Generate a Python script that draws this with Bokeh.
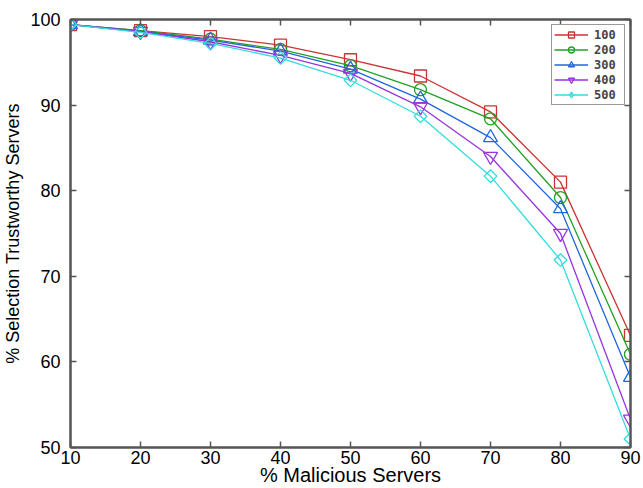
import math
from bokeh.plotting import figure
from bokeh.models import (FixedTicker, LinearAxis, Legend, LegendItem, Range1d,
                          CustomLabelingPolicy, CDSView, IndexFilter,
                          ColumnDataSource)
from bokeh.embed import file_html
from bokeh.resources import INLINE

# ---- data ----
malicious = [10, 20, 30, 40, 50, 60, 70, 80, 90]
series_names = ["100", "200", "300", "400", "500"]
s100 = [99.4, 98.7, 98.0, 97.0, 95.3, 93.4, 89.2, 81.0, 63.1]
s200 = [99.4, 98.7, 97.7, 96.5, 94.6, 91.8, 88.4, 79.2, 60.9]
s300 = [99.4, 98.6, 97.6, 96.3, 94.2, 90.7, 86.2, 77.9, 58.2]
s400 = [99.4, 98.6, 97.4, 95.8, 93.7, 89.8, 84.0, 75.0, 53.3]
s500 = [99.4, 98.5, 97.2, 95.5, 92.9, 88.7, 81.7, 71.9, 51.0]
x_ticks = [10, 20, 30, 40, 50, 60, 70, 80, 90]
y_ticks = [50, 60, 70, 80, 90, 100]

series = [s100, s200, s300, s400, s500]
colors = ["#cc3333", "#22a022", "#2266dd", "#9933dd", "#33dddd"]
markers = ["square", "circle", "triangle", "inverted_triangle", "square"]
legend_markers = ["square", "circle", "triangle", "inverted_triangle", "diamond"]
sizes = [12, 12, 14, 14, 9]
angles = [0, 0, 0, 0, math.pi / 4]

FONT = "Liberation Sans"
AXIS_COLOR = "#555555"

p = figure(width=643, height=488, output_backend="svg", toolbar_location=None,
           x_range=Range1d(10, 90), y_range=Range1d(50, 100),
           min_border_left=70, min_border_right=11, min_border_top=19,
           min_border_bottom=39)
p.grid.visible = False
p.outline_line_color = AXIS_COLOR
p.outline_line_width = 2
p.background_fill_color = "white"
p.border_fill_color = "white"

hide_all = CustomLabelingPolicy(code="""
if (indices != null && typeof indices.clear === "function") { indices.clear(); return indices }
return []
""")

def style_axis(ax, labels=True):
    ax.axis_line_color = AXIS_COLOR
    ax.axis_line_width = 2
    ax.major_tick_line_color = AXIS_COLOR
    ax.major_tick_line_width = 1.5
    ax.major_tick_in = 6
    ax.major_tick_out = 0
    ax.minor_tick_line_color = None
    ax.major_label_text_font = FONT
    ax.major_label_text_font_size = "18px" if labels else "6px"
    ax.major_label_text_color = "black"
    if not labels:
        ax.major_label_policy = hide_all
        ax.major_label_standoff = 0

xa = p.xaxis[0]
ya = p.yaxis[0]
xa.ticker = FixedTicker(ticks=x_ticks)
ya.ticker = FixedTicker(ticks=y_ticks)
style_axis(xa)
style_axis(ya)
xa.major_label_standoff = 3
ya.major_label_standoff = 10
xa.axis_label = "% Malicious Servers"
ya.axis_label = "% Selection Trustworthy Servers"
for ax in (xa, ya):
    ax.axis_label_text_font = FONT
    ax.axis_label_text_font_style = "normal"
    ax.axis_label_text_color = "black"
xa.axis_label_text_font_size = "20px"
ya.axis_label_text_font_size = "18px"
xa.axis_label_standoff = -3
ya.axis_label_standoff = 4

top = LinearAxis(ticker=FixedTicker(ticks=x_ticks))
right = LinearAxis(ticker=FixedTicker(ticks=y_ticks))
style_axis(top, labels=False)
style_axis(right, labels=False)
p.add_layout(top, "above")
p.add_layout(right, "right")

items = []
for name, ys, c, m, lm, sz, an in zip(series_names, series, colors, markers,
                                      legend_markers, sizes, angles):
    src = ColumnDataSource(dict(x=malicious, y=ys))
    ln = p.line("x", "y", source=src, line_color=c, line_width=1.3)
    sc = p.scatter("x", "y", source=src, marker=m, size=sz, angle=an,
                   line_color=c, line_width=1.3, fill_alpha=0)
    if lm != m:
        # legend glyph: zero-size in the plot, the legend sizes it itself
        sc_leg = p.scatter("x", "y", source=src, marker=lm, size=0,
                           line_color=c, line_width=1.3, fill_alpha=0,
                           view=CDSView(filter=IndexFilter(indices=[0])))
        items.append(LegendItem(label=name, renderers=[ln, sc_leg]))
    else:
        items.append(LegendItem(label=name, renderers=[ln, sc]))

legend = Legend(items=items, location="top_right")
legend.label_text_font = "DejaVu Sans Mono"
legend.label_text_font_style = "bold"
legend.label_text_font_size = "12px"
legend.glyph_width = 34
legend.glyph_height = 15
legend.label_height = 14
legend.spacing = 0
legend.padding = 2
legend.label_standoff = 6
legend.label_width = 28
legend.margin = 5
legend.border_line_color = "#333333"
legend.border_line_width = 1.5
legend.background_fill_color = "white"
legend.background_fill_alpha = 1
p.add_layout(legend, "center")

open("out.html", "w").write(file_html(p, INLINE))
